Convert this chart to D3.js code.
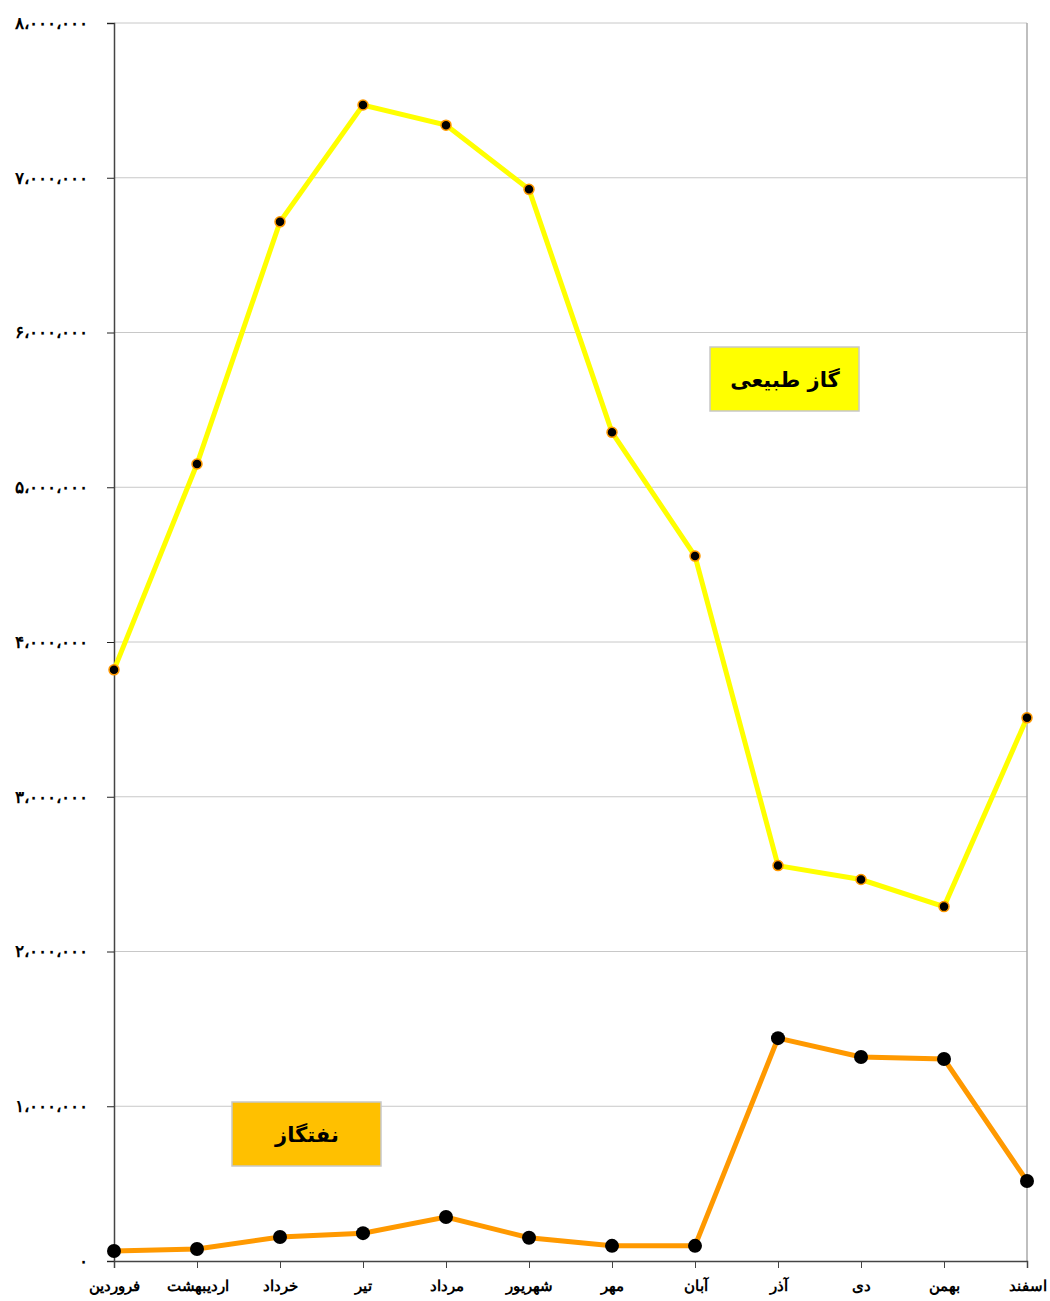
<!DOCTYPE html>
<html>
<head>
<meta charset="utf-8">
<script src="https://cdn.jsdelivr.net/npm/d3@7"></script>
<style>
  body { margin: 0; background: #fff; }
  svg { font-family: "DejaVu Sans", sans-serif; }
</style>
</head>
<body>
<svg id="chart" width="1050" height="1301"></svg>
<script>
// months (x categories)
const months = ['فروردین', 'اردیبهشت', 'خرداد', 'تیر', 'مرداد', 'شهریور', 'مهر', 'آبان', 'آذر', 'دی', 'بهمن', 'اسفند']

// natural gas series
const gasValues = [3820000, 5150000, 6715000, 7470000, 7340000, 6925000, 5355000, 4555000, 2555000, 2465000, 2290000, 3510000]

// naftgaz series
const naftgazValues = [65000, 78000, 155000, 180000, 284000, 150000, 98000, 98000, 1440000, 1318000, 1305000, 517000]

const yTicks = [0, 1000000, 2000000, 3000000, 4000000, 5000000, 6000000, 7000000, 8000000]

const seriesNames = ['گاز طبیعی', 'نفتگاز']

const plotLeft = 114
const plotRight = 1027
const plotTop = 23
const plotBottom = 1261

const svg = d3.select('#chart')

const xScale = d3.scalePoint()
  .domain(months)
  .range([plotLeft, plotRight])
  .padding(0)

const yScale = d3.scaleLinear()
  .domain([0, 8000000])
  .range([plotBottom, plotTop])

// persian digits with arabic comma
const faDigits = '۰۱۲۳۴۵۶۷۸۹'
const faFormat = v => d3.format(',')(v)
  .replace(/\d/g, d => faDigits[+d])
  .replace(/,/g, '،')

// gridlines
svg.append('g')
  .selectAll('line')
  .data(yTicks.slice(1))
  .join('line')
  .attr('x1', plotLeft)
  .attr('x2', plotRight)
  .attr('y1', d => yScale(d))
  .attr('y2', d => yScale(d))
  .attr('stroke', '#c8c8c8')
  .attr('stroke-width', 1)

// right border
svg.append('line')
  .attr('x1', plotRight).attr('x2', plotRight)
  .attr('y1', plotTop).attr('y2', plotBottom)
  .attr('stroke', '#aaa')
  .attr('stroke-width', 1.5)

// y axis
const yAxis = d3.axisLeft(yScale)
  .tickValues(yTicks)
  .tickSize(7)
  .tickPadding(19)
  .tickFormat(faFormat)

svg.append('g')
  .attr('transform', `translate(${plotLeft}, 0)`)
  .call(yAxis)
  .call(g => g.select('.domain').attr('stroke', '#444').attr('stroke-width', 1.5))
  .call(g => g.selectAll('.tick line').attr('stroke', '#222'))
  .call(g => g.selectAll('.tick text')
    .attr('font-size', 17)
    .attr('font-weight', 'bold')
    .attr('fill', '#000'))

// x axis
const xAxis = d3.axisBottom(xScale)
  .tickSize(7)
  .tickPadding(12)

svg.append('g')
  .attr('transform', `translate(0, ${plotBottom})`)
  .call(xAxis)
  .call(g => g.select('.domain').attr('stroke', '#444').attr('stroke-width', 1.5))
  .call(g => g.selectAll('.tick line').attr('stroke', '#444'))
  .call(g => g.selectAll('.tick text')
    .attr('font-size', 15)
    .attr('font-weight', 'bold')
    .attr('fill', '#000'))

const line = d3.line()
  .x((d, i) => xScale(months[i]))
  .y(d => yScale(d))

// gas line
svg.append('path')
  .datum(gasValues)
  .attr('d', line)
  .attr('fill', 'none')
  .attr('stroke', '#ffff00')
  .attr('stroke-width', 5)

svg.append('g')
  .selectAll('circle')
  .data(gasValues)
  .join('circle')
  .attr('cx', (d, i) => xScale(months[i]))
  .attr('cy', d => yScale(d))
  .attr('r', 5)
  .attr('fill', '#000')
  .attr('stroke', '#ff9900')
  .attr('stroke-width', 1.5)

// naftgaz line
svg.append('path')
  .datum(naftgazValues)
  .attr('d', line)
  .attr('fill', 'none')
  .attr('stroke', '#ff9900')
  .attr('stroke-width', 5)

svg.append('g')
  .selectAll('circle')
  .data(naftgazValues)
  .join('circle')
  .attr('cx', (d, i) => xScale(months[i]))
  .attr('cy', d => yScale(d))
  .attr('r', 7)
  .attr('fill', '#000')

// labels in boxes
const labels = [
  { name: seriesNames[0], x: 710, y: 347, fill: '#ffff00' },
  { name: seriesNames[1], x: 232, y: 1102, fill: '#ffc000' }
]

const lab = svg.append('g')
  .selectAll('g')
  .data(labels)
  .join('g')
  .attr('transform', d => `translate(${d.x}, ${d.y})`)

lab.append('rect')
  .attr('width', 149)
  .attr('height', 64)
  .attr('fill', d => d.fill)
  .attr('stroke', '#c8c8c8')
  .attr('stroke-width', 1.5)

lab.append('text')
  .attr('x', 75)
  .attr('y', 33)
  .attr('dy', '0.35em')
  .attr('text-anchor', 'middle')
  .attr('font-size', 21)
  .attr('font-weight', 'bold')
  .attr('direction', 'rtl')
  .text(d => d.name)
</script>
</body>
</html>
